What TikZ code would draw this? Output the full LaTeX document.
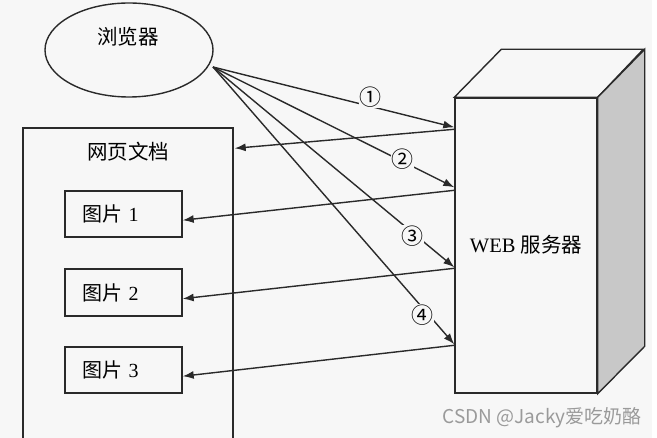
\documentclass[tikz,border=0pt]{standalone}
\usepackage{fontspec}
\setmainfont{Liberation Serif}
\newfontfamily\cjk{Noto Sans CJK SC}
\usetikzlibrary{arrows.meta,calc,shapes.geometric}
\definecolor{bg}{HTML}{F7F7F7}
\definecolor{ln}{HTML}{2A2A2A}
\definecolor{side}{HTML}{C8C8C8}
\definecolor{wm}{HTML}{9A9A9A}
\tikzset{
  arr/.style={line width=1.4pt, draw=ln, -{Latex[length=11pt,width=8pt]}},
  face/.style={line width=1.4pt, draw=ln, line join=miter},
  box/.style={draw=ln, line width=1.4pt, rectangle, inner sep=0pt},
  picbox/.style={box, minimum height=46pt, text width=83pt, align=left, inner xsep=17pt, font=\fontsize{20}{20}\selectfont},
  num/.style={fill=bg, inner sep=0.5pt, font=\cjk\fontsize{22}{22}\selectfont},
  txt/.style={inner sep=0pt, font=\fontsize{20.5}{20.5}\selectfont}
}
\begin{document}
\begin{tikzpicture}[x=1pt,y=-1pt]
\useasboundingbox (0,0) rectangle (657,438);
\clip (0,0) rectangle (657,438);
\fill[white] (0,0) rectangle (657,438);
\fill[bg] (0,0) rectangle (652,438);

% browser
\node[ellipse, draw=ln, line width=1.4pt, minimum width=168pt, minimum height=94pt, inner sep=0pt] (browser) at (129,50) {};
\node[txt] (browsertext) at (128,37) {\cjk 浏览器};
\coordinate (src) at (213,67);

% web page document
\node[box, minimum width=210pt, minimum height=332pt] (doc) at (128,294) {};
\node[txt] (doctitle) at (128,152) {\cjk 网页文档};
\node[picbox, minimum height=46pt] (pic1) at (123.5,214) {{\cjk 图片} 1};
\node[picbox, minimum height=47pt] (pic2) at (123.5,292.5) {{\cjk 图片} 2};
\node[picbox, minimum height=46pt] (pic3) at (123.5,370) {{\cjk 图片} 3};

% server
\node[box, fill=bg, minimum width=142pt, minimum height=295pt, font=\fontsize{20.5}{20.5}\selectfont] (server) at (526,245.5) {\raisebox{3pt}{WEB {\cjk 服务器}}};
\draw[face, fill=bg] (server.north west) -- ++(47,-48) -- ++(142,0) -- (server.north east) -- cycle;
\draw[face, fill=side] (server.north east) -- ++(47,-48) -- ++(0,297) -- (server.south east) -- cycle;

\coordinate (in1) at ($(server.north west)+(0,30)$);
\coordinate (in2) at ($(server.north west)+(0,90)$);
\coordinate (in3) at ($(server.north west)+(0,170)$);
\coordinate (in4) at ($(server.north west)+(0,247)$);
\coordinate (out1) at ($(server.north west)+(0,32)$);
\coordinate (out2) at ($(server.north west)+(0,93)$);
\coordinate (out3) at ($(server.north west)+(0,171)$);
\coordinate (out4) at ($(server.north west)+(0,248)$);
\coordinate (docin) at ($(doc.north east)+(1,21)$);

% requests
\draw[arr] (src) -- (in1);
\draw[arr] (src) -- (in2);
\draw[arr] (src) -- (in3);
\draw[arr] (src) -- (in4);

% responses
\draw[arr] (out1) -- (docin);
\draw[arr] (out2) -- (pic1.-6);
\draw[arr] (out3) -- (pic2.-6);
\draw[arr] (out4) -- (pic3.-6);

% step labels
\node[num] (n1) at (370,97) {①};
\node[num] (n2) at (402,159) {②};
\node[num] (n3) at (412,236) {③};
\node[num] (n4) at (422,315) {④};

% watermark
\node[inner sep=0pt, text=wm, font=\cjk\fontsize{19}{19}\selectfont] (wmark) at (542,418) {CSDN @Jacky爱吃奶酪};
\end{tikzpicture}
\end{document}
